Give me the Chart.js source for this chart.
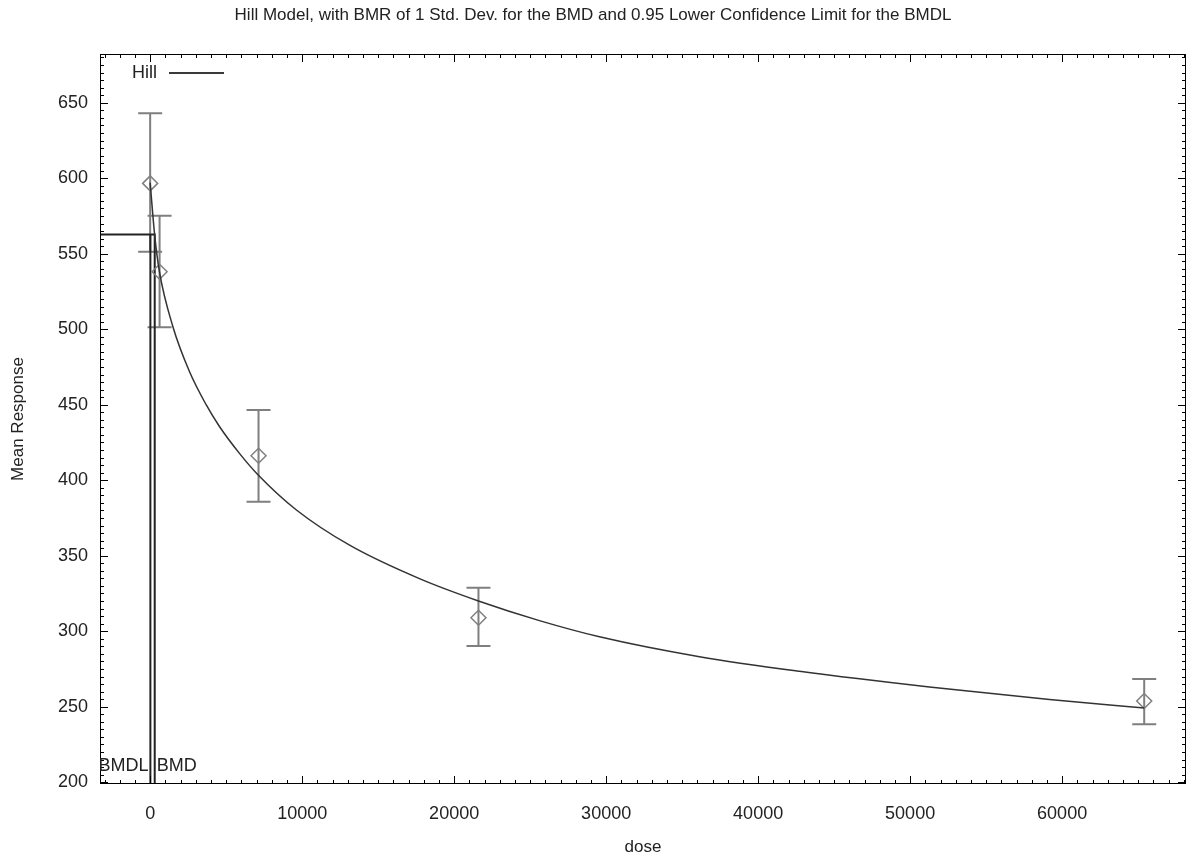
<!DOCTYPE html>
<html>
<head>
<meta charset="utf-8">
<title>Hill Model</title>
<script src="https://cdn.jsdelivr.net/npm/chart.js@4/dist/chart.umd.min.js"></script>
<style>
  html, body { margin: 0; padding: 0; background: #ffffff; }
  #wrap { width: 1188px; height: 859px; }
</style>
</head>
<body>
<div id="wrap"><canvas id="hillChart" width="1188" height="859"></canvas></div>
<script>
// Observed dose groups (mean response with error bars)
const doses = [0, 620, 7130, 21600, 65400];
const means = [596.6, 538.1, 416.2, 308.9, 253.8];
const lower = [551.3, 501.3, 385.8, 290.2, 238.4];
const upper = [643.0, 575.2, 446.5, 328.8, 268.4];

// Fitted Hill curve
const curveDose = [0, 300, 613, 1487, 2585, 3684, 4559, 5875, 7059, 9625, 13150, 17717, 21599, 25612, 29560, 36140, 42720, 51270, 59170, 65400];
const curveResp = [597, 562, 538, 502, 472, 450, 435.6, 417.8, 404, 380.3, 356.8, 334.8, 320, 307, 296.3, 283.1, 273.4, 263, 254.7, 249.1];

// Benchmark dose markers
const bmdl = 15;
const bmd = 300;
const bmrLevel = 562.8;

// Axis ranges and tick labels
const xMin = -3300, xMax = 68150;
const yMin = 198.8, yMax = 682.3;
const xTickValues = [0, 10000, 20000, 30000, 40000, 50000, 60000];
const yTickValues = [200, 250, 300, 350, 400, 450, 500, 550, 600, 650];

const FONT = "'Liberation Sans', Arial, Helvetica, sans-serif";

// gnuplot-style frame: border, inward ticks, error bars, legend and BMD labels
const gnuplotDecor = {
    id: 'gnuplotDecor',
    beforeDatasetsDraw(chart) {
        const { ctx, scales: { x, y } } = chart;
        ctx.save();
        ctx.strokeStyle = '#7f7f7f';
        ctx.lineWidth = 2;
        doses.forEach((d, i) => {
            const px = x.getPixelForValue(d);
            const top = y.getPixelForValue(upper[i]);
            const bot = y.getPixelForValue(lower[i]);
            ctx.beginPath();
            ctx.moveTo(px, top); ctx.lineTo(px, bot);
            ctx.moveTo(px - 12, top); ctx.lineTo(px + 12, top);
            ctx.moveTo(px - 12, bot); ctx.lineTo(px + 12, bot);
            ctx.stroke();
        });
        ctx.restore();
    },
    afterDatasetsDraw(chart) {
        const { ctx, chartArea: a, scales: { x, y } } = chart;
        ctx.save();

        // border
        ctx.strokeStyle = '#000';
        ctx.lineWidth = 1;
        ctx.strokeRect(a.left + 0.5, a.top + 0.5, a.width - 1, a.height - 1);

        // ticks on all four sides, pointing inward
        ctx.beginPath();
        for (let v = -3000; v <= 68000; v += 1000) {
            const px = Math.round(x.getPixelForValue(v)) + 0.5;
            const len = (v % 10000 === 0) ? 8 : 4;
            ctx.moveTo(px, a.bottom); ctx.lineTo(px, a.bottom - len);
            ctx.moveTo(px, a.top); ctx.lineTo(px, a.top + len);
        }
        for (let v = 200; v <= 680; v += 5) {
            const py = Math.round(y.getPixelForValue(v)) + 0.5;
            const len = (v % 50 === 0) ? 8 : 4;
            ctx.moveTo(a.left, py); ctx.lineTo(a.left + len, py);
            ctx.moveTo(a.right, py); ctx.lineTo(a.right - len, py);
        }
        ctx.stroke();

        // legend
        ctx.font = '18px ' + FONT;
        ctx.fillStyle = '#222';
        ctx.textAlign = 'right';
        ctx.textBaseline = 'middle';
        ctx.fillText('Hill', 157, 73);
        ctx.strokeStyle = '#3a3a3a';
        ctx.lineWidth = 2;
        ctx.beginPath();
        ctx.moveTo(169, 73); ctx.lineTo(224, 73);
        ctx.stroke();

        // BMDL / BMD labels, clipped to the plot area
        ctx.beginPath();
        ctx.rect(a.left, a.top, a.width, a.height);
        ctx.clip();
        ctx.fillStyle = '#222';
        ctx.textAlign = 'right';
        ctx.fillText('BMDL', x.getPixelForValue(bmdl) - 2, 766);
        ctx.textAlign = 'left';
        ctx.fillText('BMD', x.getPixelForValue(bmd) + 2, 766);
        ctx.restore();
    }
};

const ctx = document.getElementById('hillChart').getContext('2d');
new Chart(ctx, {
    type: 'scatter',
    data: {
        datasets: [
            {
                label: 'Hill',
                data: curveDose.map((d, i) => ({ x: d, y: curveResp[i] })),
                showLine: true,
                borderColor: '#333333',
                borderWidth: 1.5,
                pointRadius: 0,
                cubicInterpolationMode: 'monotone',
                fill: false
            },
            {
                label: 'Mean',
                data: doses.map((d, i) => ({ x: d, y: means[i] })),
                pointStyle: 'rectRot',
                pointRadius: 7.5,
                borderColor: '#808080',
                backgroundColor: 'rgba(0,0,0,0)',
                borderWidth: 1.5
            },
            {
                label: 'BMD',
                data: [{ x: xMin, y: bmrLevel }, { x: bmd, y: bmrLevel }, { x: bmd, y: yMin }],
                showLine: true,
                borderColor: '#222',
                borderWidth: 2,
                pointRadius: 0,
                fill: false
            },
            {
                label: 'BMDL',
                data: [{ x: bmdl, y: bmrLevel }, { x: bmdl, y: yMin }],
                showLine: true,
                borderColor: '#222',
                borderWidth: 2,
                pointRadius: 0,
                fill: false
            }
        ]
    },
    options: {
        responsive: false,
        animation: false,
        layout: { autoPadding: false, padding: { right: 2 } },
        plugins: {
            legend: { display: false },
            tooltip: { enabled: false },
            title: {
                display: true,
                text: 'Hill Model, with BMR of 1 Std. Dev. for the BMD and 0.95 Lower Confidence Limit for the BMDL',
                color: '#222',
                font: { family: FONT, size: 17, weight: 'normal' },
                padding: { top: 5, bottom: 28.6 }
            }
        },
        scales: {
            x: {
                type: 'linear',
                min: xMin,
                max: xMax,
                afterBuildTicks: s => { s.ticks = xTickValues.map(v => ({ value: v })); },
                afterFit: s => { s.height = 75; s.paddingLeft = 0; s.paddingRight = 0; },
                grid: { display: false, drawTicks: false },
                border: { display: false },
                ticks: {
                    color: '#222',
                    font: { family: FONT, size: 18 },
                    padding: 19,
                    maxRotation: 0,
                    autoSkip: false,
                    callback: v => String(v)
                },
                title: {
                    display: true,
                    text: 'dose',
                    color: '#222',
                    font: { family: FONT, size: 17 },
                    padding: { top: 0, bottom: 1 }
                }
            },
            y: {
                type: 'linear',
                min: yMin,
                max: yMax,
                afterBuildTicks: s => { s.ticks = yTickValues.map(v => ({ value: v })); },
                afterFit: s => { s.width = 100; s.paddingTop = 0; s.paddingBottom = 0; },
                grid: { display: false, drawTicks: false },
                border: { display: false },
                ticks: {
                    color: '#222',
                    font: { family: FONT, size: 18 },
                    padding: 12,
                    callback: v => String(v)
                },
                title: {
                    display: true,
                    text: 'Mean Response',
                    color: '#222',
                    font: { family: FONT, size: 17 },
                    padding: { top: 8, bottom: 0 }
                }
            }
        }
    },
    plugins: [gnuplotDecor]
});
</script>
</body>
</html>
